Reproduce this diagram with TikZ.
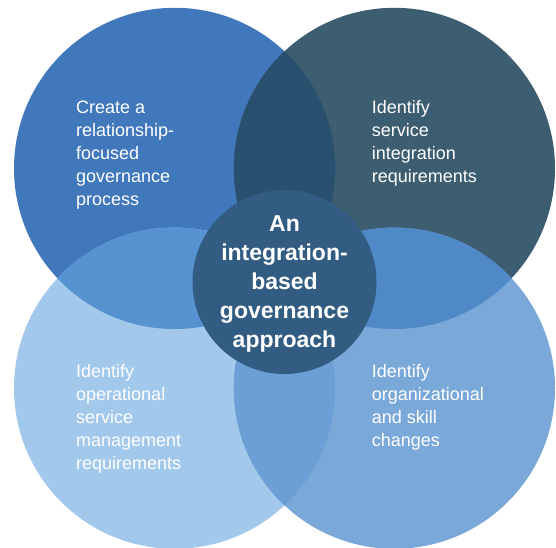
\documentclass[tikz,border=0pt]{standalone}
\usepackage{fontspec}
\setmainfont{Liberation Sans}
\definecolor{cTL}{HTML}{4178BB}
\definecolor{cTR}{HTML}{3D5D71}
\definecolor{cBL}{HTML}{A2C8EB}
\definecolor{cBR}{HTML}{7AA8D9}
\definecolor{cTLTR}{HTML}{2A5070}
\definecolor{cTLBL}{HTML}{5693D0}
\definecolor{cTRBR}{HTML}{4F89C8}
\definecolor{cBLBR}{HTML}{6B9FD5}
\definecolor{cMid}{HTML}{325C81}
\tikzset{
  label text/.style={anchor=base west, inner sep=0pt, align=left, text=white,
    font=\fontsize{18}{23}\selectfont},
  centre text/.style={anchor=base, inner sep=0pt, align=center, text=white,
    font=\fontsize{23}{29}\bfseries\selectfont}
}
\begin{document}
\begin{tikzpicture}[x=1pt,y=-1pt]
\useasboundingbox (0,0) rectangle (556,547);
\def\R{160.6}
\coordinate (tl) at (174.6,168.4);
\coordinate (tr) at (394.4,168.4);
\coordinate (bl) at (174.6,388.2);
\coordinate (br) at (394.4,388.2);
\coordinate (mid) at (284.5,282);
\fill[cTL] (tl) circle[radius=\R];
\fill[cTR] (tr) circle[radius=\R];
\fill[cBL] (bl) circle[radius=\R];
\fill[cBR] (br) circle[radius=\R];
\begin{scope}
  \clip (tl) circle[radius=\R];
  \fill[cTLTR] (tr) circle[radius=\R];
\end{scope}
\begin{scope}
  \clip (tl) circle[radius=\R];
  \fill[cTLBL] (bl) circle[radius=\R];
\end{scope}
\begin{scope}
  \clip (tr) circle[radius=\R];
  \fill[cTRBR] (br) circle[radius=\R];
\end{scope}
\begin{scope}
  \clip (bl) circle[radius=\R];
  \fill[cBLBR] (br) circle[radius=\R];
\end{scope}
\fill[cMid] (mid) circle[radius=92];
\node[label text] (t1) at (76,205.5) {Create a\\relationship-\\focused\\governance\\process};
\node[label text] (t2) at (371.6,182.5) {Identify\\service\\integration\\requirements};
\node[label text] (t3) at (76,469.7) {Identify\\operational\\service\\management\\requirements};
\node[label text] (t4) at (371.6,446.7) {Identify\\organizational\\and skill\\changes};
\node[centre text] (c) at (284.5,347.5) {An\\integration-\\based\\governance\\approach};
\end{tikzpicture}
\end{document}
